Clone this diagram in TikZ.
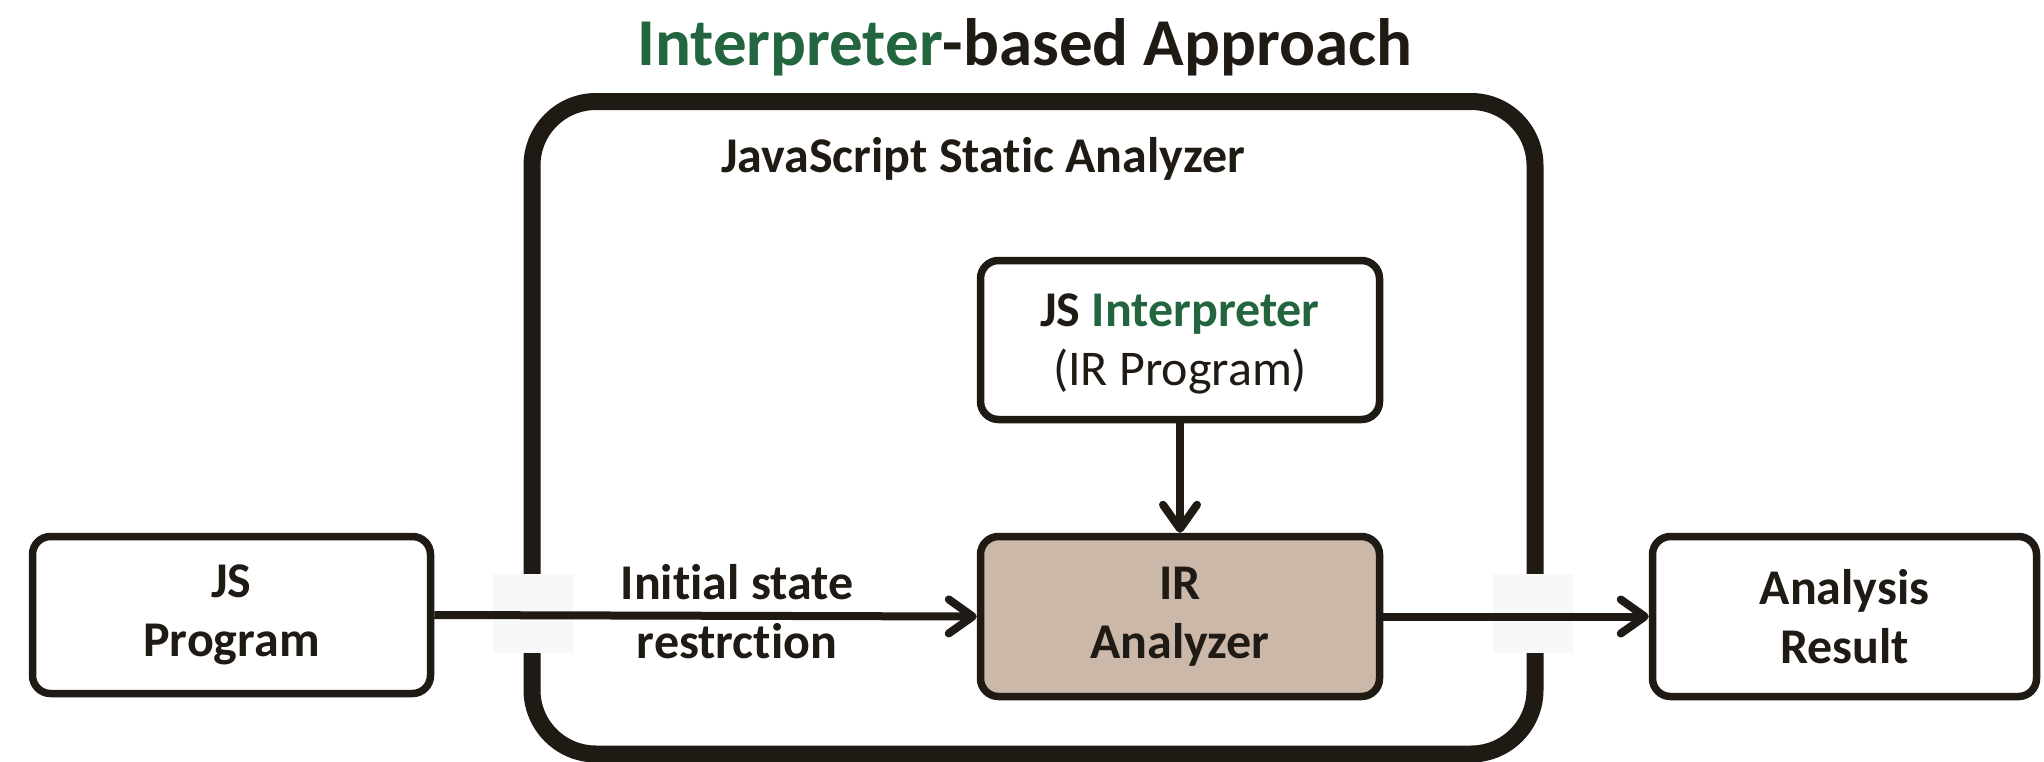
\documentclass[tikz,border=0pt]{standalone}
\usepackage{fontspec}
\setmainfont{Carlito}[Ligatures=NoCommon]
\usetikzlibrary{arrows.meta}
\definecolor{ink}{HTML}{201A14}
\definecolor{igreen}{HTML}{23653F}
\definecolor{irfill}{HTML}{CBB8A9}
\definecolor{gapgray}{HTML}{F8F8F8}
\begin{document}
\begin{tikzpicture}[x=1pt,y=-1pt,
  txt/.style={text=ink, font=\bfseries\fontsize{50}{59}\selectfont, align=center, inner sep=0pt},
  box/.style={txt, draw=ink, line width=7.5pt, rounded corners=18pt},
  arr/.style={draw=ink, line width=8pt, -{Straight Barb[round,length=24pt,width=34pt]}},
]
\useasboundingbox[fill=white] (0,0) rectangle (2044,761);
% container
\node[draw=ink, line width=17pt, rounded corners=64pt, minimum width=1003pt, minimum height=652.5pt, inner sep=0pt] (sa) at (1033.5,427.75) {};
\fill[gapgray] (493,574) rectangle (574,653);
\fill[gapgray] (1493,574) rectangle (1573,653);
% titles
\node[anchor=base, text=ink, font=\bfseries\fontsize{67}{80}\selectfont] (title) at (1025,65) {\textcolor{igreen}{Interpreter}-based Approach};
\node[txt, anchor=base] (satitle) at (983,172) {JavaScript Static Analyzer};
% boxes
\node[box, minimum width=398pt, minimum height=157pt] (jsp) at (231.5,615) {JS\\Program};
\node[box, minimum width=399pt, minimum height=159pt] (interp) at (1180,340) {\rule{0pt}{40pt}JS \textcolor{igreen}{Interpreter}\\\mdseries(IR Program)};
\node[box, fill=irfill, minimum width=399pt, minimum height=160pt] (ira) at (1180,616.5) {IR\\Analyzer};
\node[box, minimum width=384pt, minimum height=160pt] (res) at (1844.5,616.5) {Analysis\\Result};
% label
\node[txt] (lbl) at (737,612) {Initial state\\restrction};
% arrows
\draw[arr] (jsp.east) -- (ira.west);
\draw[arr] (interp.south) -- (ira.north);
\draw[arr] (ira.east) -- (res.west);
\end{tikzpicture}
\end{document}
